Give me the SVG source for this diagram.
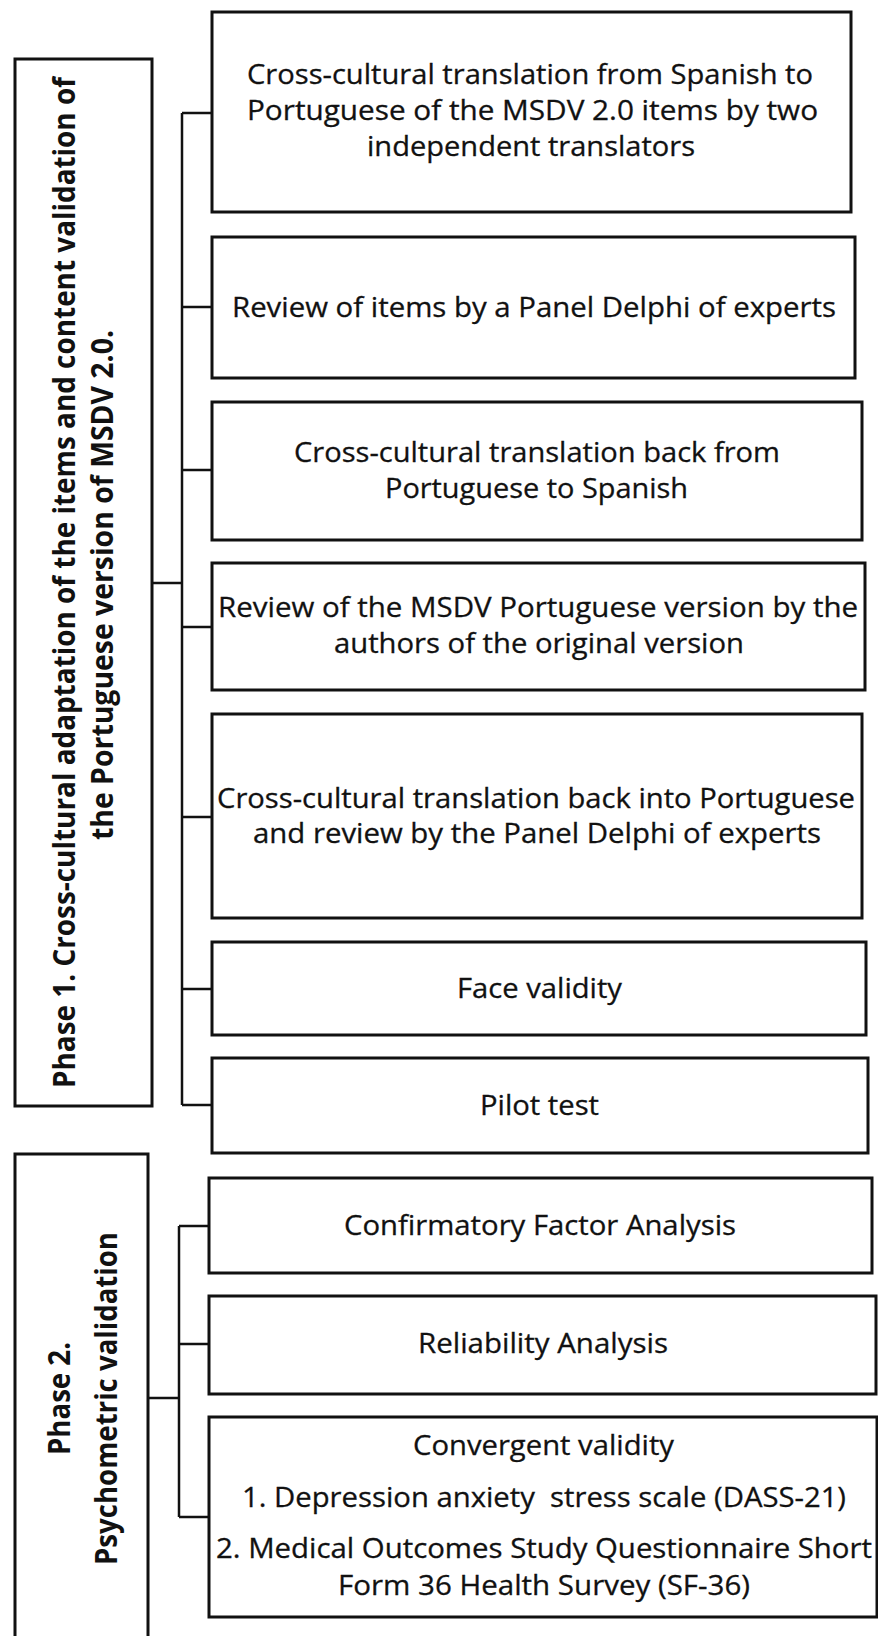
<svg xmlns="http://www.w3.org/2000/svg" width="878" height="1636" viewBox="0 0 878 1636">
<style>
.box{fill:#fff;stroke:#111;stroke-width:3}
.t{font-family:"Open Sans","Liberation Sans",sans-serif;font-size:28px;fill:#111;stroke:#111;stroke-width:0.3;text-anchor:middle}
.v{font-family:"Open Sans","Liberation Sans",sans-serif;font-size:31px;font-weight:bold;fill:#111;text-anchor:middle}
.c{fill:none;stroke:#111;stroke-width:2.5}
</style>
<rect width="878" height="1636" fill="#fff"/>
<g id="connectors">
<path class="c" d="M152,583H182M182,113V1105M182,113H212M182,307H212M182,470H212M182,627H212M182,817H212M182,989H212M182,1105H212"/>
<path class="c" d="M148,1398H179M179,1226V1517M179,1226H209M179,1344H209M179,1517H209"/>
</g>
<g id="phase1">
<rect class="box" x="15" y="59" width="137" height="1047"/>
<text class="v" transform="translate(75,582.5) rotate(-90)" textLength="1011" lengthAdjust="spacingAndGlyphs">Phase 1. Cross-cultural adaptation of the items and content validation of</text>
<text class="v" transform="translate(113,585) rotate(-90)" textLength="510" lengthAdjust="spacingAndGlyphs">the Portuguese version of MSDV 2.0.</text>
</g>
<g id="phase2">
<rect class="box" x="15" y="1154" width="133" height="500"/>
<text class="v" transform="translate(70,1398.5) rotate(-90)" textLength="113" lengthAdjust="spacingAndGlyphs">Phase 2.</text>
<text class="v" transform="translate(117,1398.5) rotate(-90)" textLength="333" lengthAdjust="spacingAndGlyphs">Psychometric validation</text>
</g>
<g id="n1">
<rect class="box" x="212" y="12" width="639" height="200"/>
<text class="t" x="530" y="84" textLength="566" lengthAdjust="spacingAndGlyphs">Cross-cultural translation from Spanish to</text>
<text class="t" x="532.5" y="120" textLength="571" lengthAdjust="spacingAndGlyphs">Portuguese of the MSDV 2.0 items by two</text>
<text class="t" x="531" y="156" textLength="328" lengthAdjust="spacingAndGlyphs">independent translators</text>
</g>
<g id="n2">
<rect class="box" x="212" y="237" width="643" height="141"/>
<text class="t" x="534" y="317" textLength="604" lengthAdjust="spacingAndGlyphs">Review of items by a Panel Delphi of experts</text>
</g>
<g id="n3">
<rect class="box" x="212" y="402" width="650" height="138"/>
<text class="t" x="537" y="462" textLength="486" lengthAdjust="spacingAndGlyphs">Cross-cultural translation back from</text>
<text class="t" x="536.5" y="498" textLength="303" lengthAdjust="spacingAndGlyphs">Portuguese to Spanish</text>
</g>
<g id="n4">
<rect class="box" x="212" y="563" width="653" height="127"/>
<text class="t" x="538" y="617" textLength="640" lengthAdjust="spacingAndGlyphs">Review of the MSDV Portuguese version by the</text>
<text class="t" x="539" y="653" textLength="410" lengthAdjust="spacingAndGlyphs">authors of the original version</text>
</g>
<g id="n5">
<rect class="box" x="212" y="714" width="650" height="204"/>
<text class="t" x="536" y="808" textLength="638" lengthAdjust="spacingAndGlyphs">Cross-cultural translation back into Portuguese</text>
<text class="t" x="537" y="843" textLength="568" lengthAdjust="spacingAndGlyphs">and review by the Panel Delphi of experts</text>
</g>
<g id="n6">
<rect class="box" x="212" y="942" width="654" height="93"/>
<text class="t" x="539.5" y="998" textLength="165" lengthAdjust="spacingAndGlyphs">Face validity</text>
</g>
<g id="n7">
<rect class="box" x="212" y="1058" width="656" height="95"/>
<text class="t" x="539.5" y="1115" textLength="119" lengthAdjust="spacingAndGlyphs">Pilot test</text>
</g>
<g id="n8">
<rect class="box" x="209" y="1178" width="663" height="95"/>
<text class="t" x="540" y="1235" textLength="392" lengthAdjust="spacingAndGlyphs">Confirmatory Factor Analysis</text>
</g>
<g id="n9">
<rect class="box" x="209" y="1296" width="667" height="98"/>
<text class="t" x="543" y="1353" textLength="250" lengthAdjust="spacingAndGlyphs">Reliability Analysis</text>
</g>
<g id="n10">
<rect class="box" x="209" y="1417" width="668" height="200"/>
<text class="t" x="543.5" y="1455" textLength="261" lengthAdjust="spacingAndGlyphs">Convergent validity</text>
<text class="t" x="544" y="1507" textLength="604" lengthAdjust="spacingAndGlyphs" xml:space="preserve">1. Depression anxiety  stress scale (DASS-21)</text>
<text class="t" x="544" y="1558" textLength="656" lengthAdjust="spacingAndGlyphs">2. Medical Outcomes Study Questionnaire Short</text>
<text class="t" x="544" y="1595" textLength="412" lengthAdjust="spacingAndGlyphs">Form 36 Health Survey (SF-36)</text>
</g>
</svg>
